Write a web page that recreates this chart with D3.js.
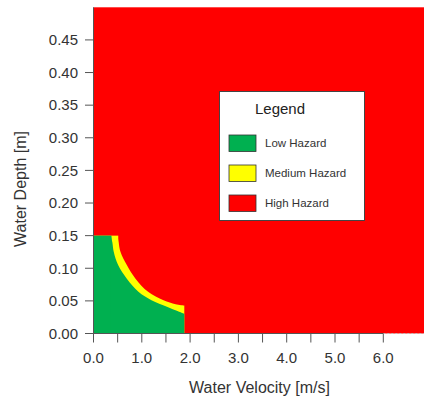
<!DOCTYPE html>
<html>
<head>
<meta charset="utf-8">
<script src="https://cdn.jsdelivr.net/npm/d3@7"></script>
<style>
  html, body { margin: 0; padding: 0; background: #fff; }
  svg { display: block; font-family: "Liberation Sans", Arial, sans-serif; }
</style>
</head>
<body>
<svg id="chart" width="424" height="401"></svg>
<script>
// Hazard classes shown in the legend
const hazardLabels = ["Low Hazard", "Medium Hazard", "High Hazard"];
const hazardColors = ["#00b050", "#ffff00", "#ff0000"];

// Axis ticks
const velocityTicks = [0, 1, 2, 3, 4, 5, 6];
const velocityMinorTicks = [0, 0.5, 1, 1.5, 2, 2.5, 3, 3.5, 4, 4.5, 5, 5.5, 6];
const depthTicks = [0, 0.05, 0.10, 0.15, 0.20, 0.25, 0.30, 0.35, 0.40, 0.45];

// Plot extent
const velocityMax = 7;
const depthMax = 0.5;

// Hazard zones are capped at this depth
const depthLimit = 0.15;

// Curved upper edge of the low hazard zone (velocity m/s, depth m)
const lowVelocity = [0.36, 0.39, 0.42, 0.51, 0.69, 0.93, 1.20, 1.52, 1.75, 1.88];
const lowDepth    = [0.150, 0.140, 0.125, 0.105, 0.084, 0.064, 0.051, 0.041, 0.034, 0.030];

// Curved upper edge of the medium hazard zone
const mediumVelocity = [0.50, 0.52, 0.56, 0.69, 0.87, 1.13, 1.45, 1.70, 1.88];
const mediumDepth    = [0.150, 0.140, 0.125, 0.105, 0.084, 0.064, 0.051, 0.045, 0.043];

const svg = d3.select("#chart");

const x = d3.scaleLinear().domain([0, velocityMax]).range([93.5, 93.5 + 48.3 * velocityMax]);
const y = d3.scaleLinear().domain([0, depthMax]).range([333.5, 7.3]);

const plot = svg.append("g");

// High hazard everywhere by default
plot.append("rect")
  .attr("x", x(0)).attr("y", y(depthMax))
  .attr("width", x(velocityMax) - x(0))
  .attr("height", y(0) - y(depthMax))
  .attr("fill", hazardColors[2]);

const zone = d3.area()
  .curve(d3.curveCatmullRom.alpha(0.5))
  .x(d => x(d[0]))
  .y0(y(0))
  .y1(d => y(d[1]));

// A zone is a flat-topped block up to the first curve point plus the area under the curve
function drawZone(vs, ds, color) {
  plot.append("rect")
    .attr("x", x(0)).attr("y", y(depthLimit))
    .attr("width", x(vs[0]) - x(0) + 0.6)
    .attr("height", y(0) - y(depthLimit))
    .attr("fill", color);
  plot.append("path")
    .attr("d", zone(vs.map((v, i) => [v, ds[i]])))
    .attr("fill", color);
}

// Medium hazard zone, then the low hazard zone laid over it
drawZone(mediumVelocity, mediumDepth, hazardColors[1]);
drawZone(lowVelocity, lowDepth, hazardColors[0]);

// Axes
const axisColor = "#555";
const textColor = "#333";

const xAxis = svg.append("g").attr("transform", `translate(0,${y(0)})`);
xAxis.append("line")
  .attr("x1", x(0)).attr("x2", x(6))
  .attr("stroke", axisColor);
xAxis.append("line")
  .attr("x1", x(6)).attr("x2", x(velocityMax))
  .attr("stroke", "#bbb").attr("stroke-dasharray", "2,2");
xAxis.selectAll("line.tick").data(velocityMinorTicks).join("line")
  .attr("class", "tick")
  .attr("x1", d => x(d)).attr("x2", d => x(d))
  .attr("y1", 0).attr("y2", 9)
  .attr("stroke", axisColor);
xAxis.selectAll("text").data(velocityTicks).join("text")
  .attr("x", d => x(d)).attr("y", 29)
  .attr("text-anchor", "middle")
  .attr("font-size", 15)
  .attr("fill", textColor)
  .text(d3.format(".1f"));

const yAxis = svg.append("g").attr("transform", `translate(${x(0)},0)`);
yAxis.append("line")
  .attr("y1", y(0)).attr("y2", y(depthMax))
  .attr("stroke", axisColor);
yAxis.selectAll("line.tick").data(depthTicks).join("line")
  .attr("class", "tick")
  .attr("x1", -8.5).attr("x2", 0)
  .attr("y1", d => y(d)).attr("y2", d => y(d))
  .attr("stroke", axisColor);
yAxis.selectAll("text").data(depthTicks).join("text")
  .attr("x", -15.5).attr("y", d => y(d))
  .attr("dy", "0.35em")
  .attr("text-anchor", "end")
  .attr("font-size", 15)
  .attr("fill", textColor)
  .text(d3.format(".2f"));

// Axis titles
svg.append("text")
  .attr("x", 259.5).attr("y", 393)
  .attr("text-anchor", "middle")
  .attr("font-size", 16)
  .attr("fill", textColor)
  .text("Water Velocity [m/s]");

svg.append("text")
  .attr("transform", "translate(25.5,189) rotate(-90)")
  .attr("text-anchor", "middle")
  .attr("font-size", 16)
  .attr("fill", textColor)
  .text("Water Depth [m]");

// Legend
const legend = svg.append("g");
legend.append("rect")
  .attr("x", 219.5).attr("y", 91.5)
  .attr("width", 145).attr("height", 129)
  .attr("fill", "#fff")
  .attr("stroke", "#444").attr("stroke-width", 1);
legend.append("text")
  .attr("x", 255).attr("y", 113.5)
  .attr("font-size", 15)
  .attr("fill", "#222")
  .text("Legend");
const items = legend.selectAll("g.item").data(hazardLabels).join("g")
  .attr("class", "item")
  .attr("transform", (d, i) => `translate(229,${135 + i * 30})`);
items.append("rect")
  .attr("width", 27).attr("height", 16.5)
  .attr("fill", (d, i) => hazardColors[i])
  .attr("stroke", "#333").attr("stroke-width", 0.8);
items.append("text")
  .attr("x", 36).attr("y", 12)
  .attr("font-size", 11.5)
  .attr("fill", textColor)
  .text(d => d);
</script>
</body>
</html>
